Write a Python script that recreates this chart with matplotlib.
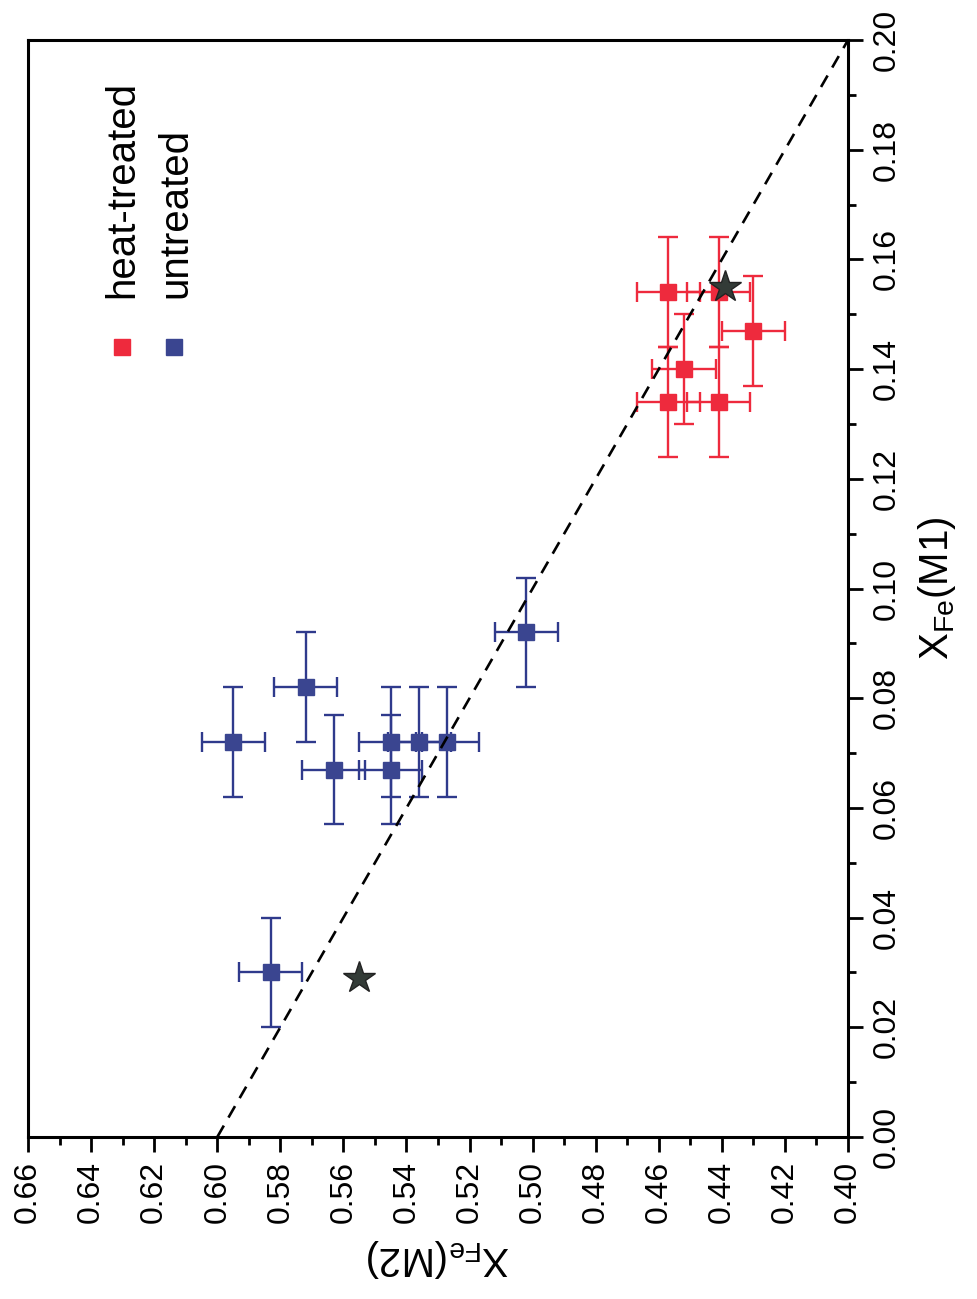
import numpy as np
import matplotlib
matplotlib.use("Agg")
import matplotlib.pyplot as plt
from matplotlib.ticker import MultipleLocator

plt.rcParams["font.family"] = ["Liberation Sans", "DejaVu Sans"]
plt.rcParams["mathtext.default"] = "regular"

# --- dati (X_Fe(M1), X_Fe(M2)) -----------------------------------------------
heat_m1 = [0.154, 0.154, 0.147, 0.140, 0.134, 0.134]
heat_m2 = [0.457, 0.441, 0.430, 0.452, 0.457, 0.441]
untr_m1 = [0.092, 0.072, 0.082, 0.067, 0.072, 0.067, 0.072, 0.072, 0.030]
untr_m2 = [0.502, 0.595, 0.572, 0.563, 0.545, 0.545, 0.536, 0.527, 0.583]
err_m1 = 0.01
err_m2 = 0.01
star_m1 = [0.029, 0.155]
star_m2 = [0.555, 0.439]
line_m1 = [0.0, 0.20]
line_m2 = [0.60, 0.40]

RED = "#ee2a3d"
BLUE = "#3a4590"
BLUE_BAR = "#2f3a8c"

# grafico ruotato di 90 gradi: M2 in orizzontale (invertito), M1 in verticale a destra
fig = plt.figure(figsize=(9.77, 12.99), dpi=100)
ax = fig.add_axes([0.0287, 0.1247, 0.8393, 0.8445])

ax.errorbar(untr_m2, untr_m1, xerr=err_m2, yerr=err_m1, fmt="none",
            ecolor=BLUE_BAR, elinewidth=1.7, capsize=7, capthick=1.7, zorder=2)
ax.errorbar(heat_m2, heat_m1, xerr=err_m2, yerr=err_m1, fmt="none",
            ecolor=RED, elinewidth=1.7, capsize=7, capthick=1.7, zorder=2)
ax.plot(untr_m2, untr_m1, "s", color=BLUE, ms=12, mec=BLUE, zorder=3)
ax.plot(heat_m2, heat_m1, "s", color=RED, ms=12, mec=RED, zorder=3)
ax.plot(line_m2, line_m1, color="black", lw=1.9, ls=(0, (5, 3.5)), zorder=4)
ax.plot(star_m2, star_m1, "*", color="#333b37", ms=24, mec="#222222", zorder=5)

ax.set_xlim(0.66, 0.40)
ax.set_ylim(0.0, 0.20)

ax.xaxis.set_major_locator(MultipleLocator(0.02))
ax.xaxis.set_minor_locator(MultipleLocator(0.01))
ax.yaxis.set_major_locator(MultipleLocator(0.02))
ax.yaxis.set_minor_locator(MultipleLocator(0.01))
ax.xaxis.set_major_formatter(lambda v, p: f"{v:.2f}")
ax.yaxis.set_major_formatter(lambda v, p: f"{v:.2f}")

ax.yaxis.tick_right()
ax.yaxis.set_label_position("right")
ax.tick_params(which="major", direction="out", length=11, width=2, labelsize=23, pad=6)
ax.tick_params(which="minor", direction="out", length=6, width=2)
ax.tick_params(axis="x", labelrotation=90)
ax.tick_params(axis="y", labelrotation=90)
for lab in ax.get_yticklabels():
    lab.set_va("center")
for s in ax.spines.values():
    s.set_linewidth(2.2)

ax.set_xlabel(r"X$_{Fe}$(M2)", fontsize=29, rotation=180, labelpad=10)
ax.set_ylabel(r"X$_{Fe}$(M1)", fontsize=29, rotation=90, labelpad=10)

# legenda manuale (ruotata)
ax.plot([0.115], [0.72], "s", color=RED, ms=11, transform=ax.transAxes, clip_on=False)
ax.plot([0.178], [0.72], "s", color=BLUE, ms=11, transform=ax.transAxes, clip_on=False)
ax.text(0.115, 0.765, "heat-treated", rotation=90, fontsize=29, ha="center", va="bottom",
        transform=ax.transAxes)
ax.text(0.180, 0.765, "untreated", rotation=90, fontsize=29, ha="center", va="bottom",
        transform=ax.transAxes)

fig.savefig("out.png", dpi=100)
